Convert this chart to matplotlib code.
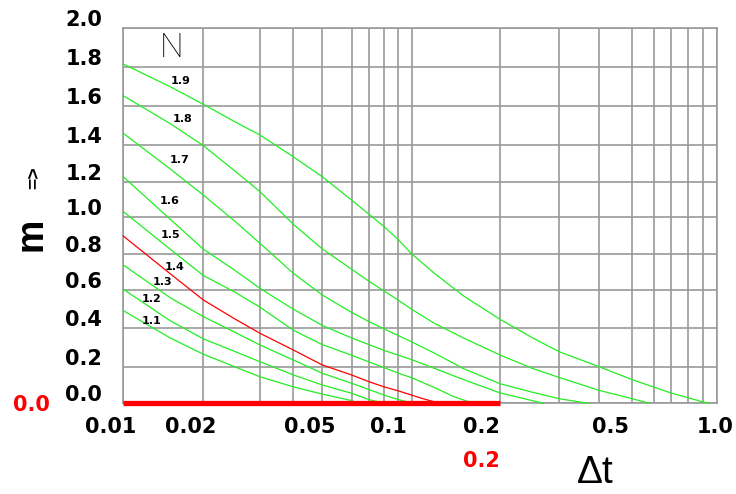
import numpy as np
import matplotlib
matplotlib.use('Agg')
from matplotlib import pyplot as plt

# curves m(dt) for each N
dt_n11 = [0.01, 0.015, 0.02, 0.025, 0.03, 0.04, 0.05, 0.06, 0.0637]
m_n11  = [0.492, 0.35, 0.265, 0.20, 0.145, 0.09, 0.05, 0.015, 0.0]

dt_n12 = [0.01, 0.015, 0.02, 0.025, 0.03, 0.04, 0.05, 0.06, 0.07, 0.0805]
m_n12  = [0.604, 0.44, 0.345, 0.28, 0.226, 0.155, 0.10, 0.055, 0.02, 0.0]

dt_n13 = [0.01, 0.015, 0.02, 0.025, 0.03, 0.04, 0.05, 0.06, 0.07, 0.08, 0.09, 0.1016]
m_n13  = [0.738, 0.56, 0.461, 0.38, 0.313, 0.235, 0.164, 0.11, 0.075, 0.045, 0.02, 0.0]

dt_n14 = [0.01, 0.015, 0.02, 0.025, 0.03, 0.04, 0.05, 0.06, 0.07, 0.08, 0.09, 0.1, 0.11, 0.125]
m_n14  = [0.897, 0.69, 0.548, 0.45, 0.374, 0.287, 0.209, 0.155, 0.118, 0.09, 0.068, 0.045, 0.024, 0.0]

dt_n15 = [0.01, 0.015, 0.02, 0.025, 0.03, 0.04, 0.05, 0.06, 0.07, 0.08, 0.09, 0.1, 0.12, 0.14, 0.162]
m_n15  = [1.032, 0.825, 0.68, 0.59, 0.51, 0.39, 0.315, 0.26, 0.225, 0.195, 0.165, 0.14, 0.085, 0.035, 0.0]

dt_n16 = [0.01, 0.015, 0.02, 0.025, 0.03, 0.04, 0.05, 0.06, 0.07, 0.08, 0.09, 0.1, 0.12, 0.15, 0.2, 0.269]
m_n16  = [1.227, 0.99, 0.825, 0.71, 0.609, 0.50, 0.415, 0.35, 0.315, 0.285, 0.26, 0.237, 0.19, 0.13, 0.057, 0.0]

dt_n17 = [0.01, 0.015, 0.02, 0.025, 0.03, 0.04, 0.05, 0.06, 0.07, 0.08, 0.09, 0.1, 0.12, 0.15, 0.2, 0.25, 0.3, 0.37]
m_n17  = [1.46, 1.27, 1.125, 0.98, 0.857, 0.692, 0.574, 0.483, 0.435, 0.397, 0.362, 0.33, 0.27, 0.19, 0.107, 0.06, 0.025, 0.0]

dt_n18 = [0.01, 0.015, 0.02, 0.025, 0.03, 0.04, 0.05, 0.06, 0.07, 0.08, 0.09, 0.1, 0.12, 0.15, 0.2, 0.25, 0.3, 0.4, 0.5, 0.579]
m_n18  = [1.653, 1.51, 1.397, 1.26, 1.144, 0.962, 0.826, 0.715, 0.648, 0.595, 0.547, 0.50, 0.425, 0.35, 0.261, 0.19, 0.141, 0.071, 0.025, 0.0]

dt_n19 = [0.01, 0.015, 0.02, 0.025, 0.03, 0.04, 0.05, 0.06, 0.07, 0.08, 0.09, 0.1, 0.12, 0.139, 0.15, 0.2,
          0.25, 0.3, 0.4, 0.5, 0.6, 0.7, 0.8, 0.9, 0.942]
m_n19  = [1.817, 1.70, 1.609, 1.52, 1.451, 1.336, 1.227, 1.097, 1.017, 0.949, 0.877, 0.80, 0.69, 0.61, 0.57, 0.447,
          0.35, 0.278, 0.20, 0.129, 0.089, 0.057, 0.03, 0.007, 0.0]

n_labels = ["1.1", "1.2", "1.3", "1.4", "1.5", "1.6", "1.7", "1.8", "1.9"]
curves = [(dt_n11, m_n11), (dt_n12, m_n12), (dt_n13, m_n13), (dt_n14, m_n14), (dt_n15, m_n15),
          (dt_n16, m_n16), (dt_n17, m_n17), (dt_n18, m_n18), (dt_n19, m_n19)]

x_ticks  = [0.01, 0.02, 0.05, 0.1, 0.2, 0.5, 1.0]
x_labels = ["0.01", "0.02", "0.05", "0.1", "0.2", "0.5", "1.0"]
y_ticks  = [0.0, 0.2, 0.4, 0.6, 0.8, 1.0, 1.2, 1.4, 1.6, 1.8, 2.0]

W, H = 736, 494

# the original axis is hand drawn: grid lines sit at these pixel columns / rows
x_grid = [0.01, 0.02, 0.03, 0.04, 0.05, 0.06, 0.07, 0.08, 0.09, 0.1,
          0.2, 0.3, 0.4, 0.5, 0.6, 0.7, 0.8, 0.9, 1.0]
x_pix  = [123.3, 203.3, 260, 293.3, 322.3, 351.5, 369, 384, 398.3, 411.5,
          500, 559.3, 599, 632.2, 653.6, 670.7, 688.3, 703.2, 717.3]
y_pix  = [403.3, 366.7, 328.3, 290, 253.7, 217.3, 181.7, 145, 106, 67.3, 28.3]

lx = np.concatenate([[-6.0], np.log10(x_grid), [4.0]])
px = np.concatenate([[x_pix[0] - 4 * 290], x_pix, [x_pix[-1] + 3 * 306]])
ly = np.array([-100.0] + y_ticks + [102.0])
py = np.array([-100 * 188.0] + [403.3 - p for p in y_pix] + [375 + 100 * 188.0])


def fx(v):
    return np.interp(np.log10(np.maximum(v, 1e-300)), lx, px)


def fx_inv(p):
    return 10 ** np.interp(p, px, lx)


def fy(v):
    return np.interp(v, ly, py)


def fy_inv(p):
    return np.interp(p, py, ly)


plt.rcParams['font.family'] = ['Liberation Sans', 'DejaVu Sans']

fig = plt.figure(figsize=(W / 100, H / 100), dpi=100)
ax = fig.add_axes([123.3 / W, 1 - 403.3 / H, (717.3 - 123.3) / W, (403.3 - 28.3) / H])
ax.set_xscale('function', functions=(fx, fx_inv))
ax.set_yscale('function', functions=(fy, fy_inv))
ax.set_xlim(0.01, 1.0)
ax.set_ylim(0, 2.0)

gcol = '#9a9a9a'
ax.set_xticks(x_grid)
ax.set_yticks(y_ticks)
ax.tick_params(which='both', length=0, labelbottom=False, labelleft=False)
ax.grid(which='both', color=gcol, lw=1.2)
for s in ax.spines.values():
    s.set_color(gcol)
    s.set_linewidth(1.2)

for lbl, (xs, ys) in zip(n_labels, curves):
    col = 'red' if lbl == "1.4" else '#22ee22'
    ax.plot(xs, ys, color=col, lw=0.9, clip_on=False, zorder=3)

# thick red base line 0.01 .. 0.2
ax.plot([0.01, 0.2], [0.0, 0.0], color='red', lw=3.8, solid_capstyle='butt', clip_on=False, zorder=4)

# curve labels (pixel positions from reference)
lab_px = [(152, 321), (152, 299), (163, 282), (175, 267), (170, 235),
          (170, 201), (180, 160), (183, 119), (181, 81)]
for lbl, (lx_, ly_) in zip(n_labels, lab_px):
    fig.text(lx_ / W, 1 - ly_ / H, lbl, fontsize=8, fontweight='bold', family=['DejaVu Sans'],
             ha='center', va='center')

tick_font = dict(fontsize=15, fontweight='bold', family=['DejaVu Sans'])

# x tick labels, shifted like in the reference
x_dx = [-13, -13, -13, -23.5, -19, -22, -2]
for v, lbl, dx in zip(x_ticks, x_labels, x_dx):
    ax.annotate(lbl, xy=(v, 0), xycoords=('data', 'axes fraction'),
                xytext=(dx * 0.72, -24 * 0.72), textcoords='offset points',
                ha='center', va='center', annotation_clip=False, **tick_font)

for v in y_ticks:
    ax.annotate(f"{v:.1f}", xy=(0, v), xycoords=('axes fraction', 'data'),
                xytext=(-21 * 0.72, 8 * 0.72), textcoords='offset points',
                ha='right', va='center', annotation_clip=False, **tick_font)

fig.text(31 / W, 1 - 405 / H, "0.0", color='red', ha='center', va='center', **tick_font)
fig.text(481 / W, 1 - 461 / H, "0.2", color='red', ha='center', va='center', **tick_font)

fig.text(32 / W, 1 - 234 / H, "m", rotation=90, fontsize=27, fontweight='bold', ha='center', va='center')
fig.text(35 / W, 1 - 178 / H, "=>", rotation=90, fontsize=14, fontweight='bold', ha='center', va='center')
fig.text(595 / W, 1 - 473 / H, "Δt", fontsize=28, ha='center', va='center')
fig.text(172 / W, 1 - 48 / H, "N", fontsize=24, fontweight=100, family=['Roboto', 'Lato', 'DejaVu Sans'],
         ha='center', va='center')

fig.savefig('out.png', dpi=100)
